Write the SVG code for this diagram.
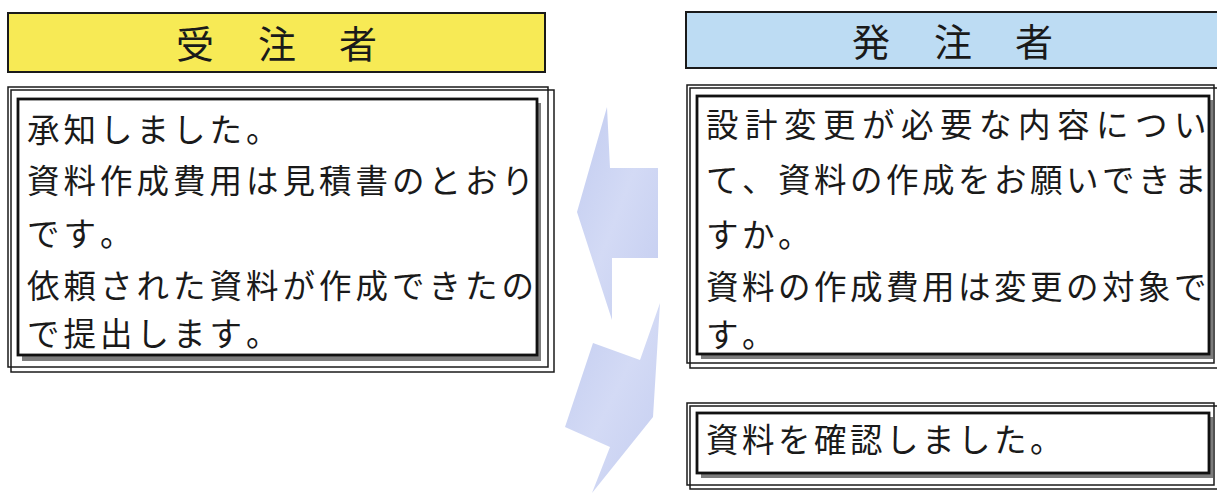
<svg xmlns="http://www.w3.org/2000/svg" width="1217" height="497" viewBox="0 0 1217 497">
<defs>
<style>
.hdr{stroke:#1a1a1a;stroke-width:2}
.ht{font-family:"Noto Sans CJK JP","Noto Sans CJK SC",sans-serif;font-size:38px;fill:#1a1a1a;text-anchor:middle}
.bt{font-family:"Noto Sans CJK JP","Noto Sans CJK SC",sans-serif;font-size:32.5px;fill:#1a1a1a}
.o{fill:none;stroke:#1a1a1a;stroke-width:1.5}
.sh{fill:#7d7d7d}
.in{fill:#fff;stroke:#111;stroke-width:2.8}
.arr{fill:url(#ag);stroke:none}
</style>
<linearGradient id="ag" x1="0" y1="0" x2="1" y2="1">
<stop offset="0" stop-color="#c2ccf0"/>
<stop offset="0.5" stop-color="#d3daf5"/>
<stop offset="1" stop-color="#c4cdf0"/>
</linearGradient>
</defs>
<rect width="1217" height="497" fill="#fff"/>

<g id="connectors">
<polygon class="arr" points="607,107 610,168 658,168 658,258 612,258 612,320 577,212"/>
<polygon class="arr" points="660,303 653,417 592,493 610,447 565,427 593,343 640,360"/>
</g>

<g id="header-contractor">
<rect class="hdr" x="8" y="13" width="537" height="59" fill="#f7ea55"/>
<text class="ht" x="195" y="58">受</text>
<text class="ht" x="277" y="58">注</text>
<text class="ht" x="358" y="58">者</text>
</g>

<g id="header-client">
<rect class="hdr" x="686" y="12" width="540" height="56" fill="#bddcf3"/>
<text class="ht" x="871" y="56">発</text>
<text class="ht" x="953" y="56">注</text>
<text class="ht" x="1034" y="56">者</text>
</g>

<g id="box-contractor">
<rect class="o" x="8" y="87" width="540" height="280"/>
<rect class="o" x="11" y="90" width="543" height="282"/>
<rect class="sh" x="22" y="103" width="519" height="258"/>
<rect class="in" x="18" y="99" width="519" height="256"/>
<text class="bt" x="27 63.5 100 136.5 173 209.5 246" y="142">承知しました。</text>
<text class="bt" x="27 63.5 100 136.5 173 209.5 246 282.5 319 355.5 392 428.5 465 501.5" y="193">資料作成費用は見積書のとおり</text>
<text class="bt" x="27 63.5 100" y="246">です。</text>
<text class="bt" x="27 63.5 100 136.5 173 209.5 246 282.5 319 355.5 392 428.5 465 501.5" y="298">依頼された資料が作成できたの</text>
<text class="bt" x="27 63.5 100 136.5 173 209.5 246" y="346">で提出します。</text>
</g>

<g id="box-client-request">
<rect class="o" x="687" y="85" width="527" height="278"/>
<rect class="o" x="690" y="88" width="530" height="280"/>
<rect class="sh" x="701" y="100" width="512" height="259"/>
<rect class="in" x="697" y="96" width="512" height="258"/>
<text class="bt" x="706 745 784 823 862 901 940 979 1018 1057 1096 1135 1174" y="137">設計変更が必要な内容につい</text>
<text class="bt" x="706 742 778 814 850 886 922 958 994 1030 1066 1102 1138 1174" y="192">て、資料の作成をお願いできま</text>
<text class="bt" x="706 742 778" y="247">すか。</text>
<text class="bt" x="706 742 778 814 850 886 922 958 994 1030 1066 1102 1138 1174" y="299">資料の作成費用は変更の対象で</text>
<text class="bt" x="706 742" y="347">す。</text>
</g>

<g id="box-client-confirm">
<rect class="o" x="687" y="403" width="527" height="82"/>
<rect class="o" x="690" y="406" width="530" height="83"/>
<rect class="sh" x="701" y="417" width="512" height="61"/>
<rect class="in" x="697" y="413" width="512" height="60"/>
<text class="bt" x="706 742 778 814 850 886 922 958 994 1030" y="452">資料を確認しました。</text>
</g>
</svg>
